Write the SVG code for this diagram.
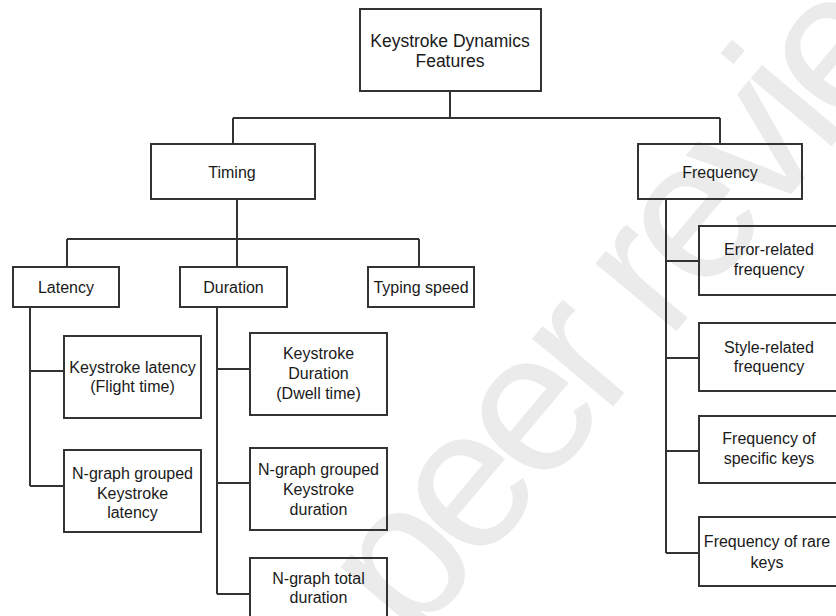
<svg xmlns="http://www.w3.org/2000/svg" width="836" height="616" viewBox="0 0 836 616">
<style>
.box{fill:none;stroke:#333;stroke-width:2}
.t{font-family:"Liberation Sans",Arial,sans-serif;font-size:16px;fill:#1a1a1a;text-anchor:middle}
.root{font-size:17.5px}
.con{fill:none;stroke:#333;stroke-width:2}
.wm{font-family:"Liberation Sans",Arial,sans-serif;font-size:200px;letter-spacing:-12px;fill:#ebebeb}
</style>
<rect width="836" height="616" fill="#fff"/>
<text class="wm" transform="translate(413,645) rotate(-50)">peer review</text>
<g id="connectors">
<path class="con" d="M450,91V118M233,118H720M233,118V144M720,118V144"/>
<path class="con" d="M237,199V239M67,239H419M67,239V267M237,239V267M419,239V267"/>
<path class="con" d="M30,307V486M30,371H64M30,486H64"/>
<path class="con" d="M217,307V594M217,369H250M217,483H250M217,594H250"/>
<path class="con" d="M666,199V553M666,261H699M666,358H699M666,451H699M666,553H699"/>
</g>
<g id="root"><rect class="box" x="360" y="9" width="181" height="82"/><text class="t root" x="450" y="47">Keystroke Dynamics</text><text class="t root" x="450" y="67">Features</text></g>
<g id="timing"><rect class="box" x="151" y="144" width="164" height="55"/><text class="t" x="232" y="178">Timing</text></g>
<g id="frequency"><rect class="box" x="638" y="144" width="164" height="55"/><text class="t" x="720" y="178">Frequency</text></g>
<g id="latency"><rect class="box" x="13" y="267" width="106" height="40"/><text class="t" x="66" y="293">Latency</text></g>
<g id="duration"><rect class="box" x="180" y="267" width="107" height="40"/><text class="t" x="233.5" y="293">Duration</text></g>
<g id="typing-speed"><rect class="box" x="368" y="267" width="106" height="40"/><text class="t" x="421" y="293">Typing speed</text></g>
<g id="keystroke-latency"><rect class="box" x="64" y="336" width="137" height="82"/><text class="t" x="132.5" y="373">Keystroke latency</text><text class="t" x="132.5" y="392">(Flight time)</text></g>
<g id="ngraph-latency"><rect class="box" x="64" y="450" width="137" height="82"/><text class="t" x="132.5" y="479">N-graph grouped</text><text class="t" x="132.5" y="499">Keystroke</text><text class="t" x="132.5" y="518">latency</text></g>
<g id="keystroke-duration"><rect class="box" x="250" y="333" width="137" height="82"/><text class="t" x="318.5" y="359">Keystroke</text><text class="t" x="318.5" y="379">Duration</text><text class="t" x="318.5" y="399">(Dwell time)</text></g>
<g id="ngraph-duration"><rect class="box" x="250" y="448" width="137" height="82"/><text class="t" x="318.5" y="475">N-graph grouped</text><text class="t" x="318.5" y="495">Keystroke</text><text class="t" x="318.5" y="515">duration</text></g>
<g id="ngraph-total"><rect class="box" x="250" y="558" width="137" height="82"/><text class="t" x="318.5" y="584">N-graph total</text><text class="t" x="318.5" y="603">duration</text></g>
<g id="error-related"><rect class="box" x="699" y="226" width="140" height="69"/><text class="t" x="769" y="255">Error-related</text><text class="t" x="769" y="275">frequency</text></g>
<g id="style-related"><rect class="box" x="699" y="323" width="140" height="68"/><text class="t" x="769" y="353">Style-related</text><text class="t" x="769" y="372">frequency</text></g>
<g id="specific-keys"><rect class="box" x="699" y="416" width="140" height="67"/><text class="t" x="769" y="444">Frequency of</text><text class="t" x="769" y="464">specific keys</text></g>
<g id="rare-keys"><rect class="box" x="699" y="517" width="140" height="69"/><text class="t" x="767" y="547">Frequency of rare</text><text class="t" x="767" y="568">keys</text></g>
</svg>
